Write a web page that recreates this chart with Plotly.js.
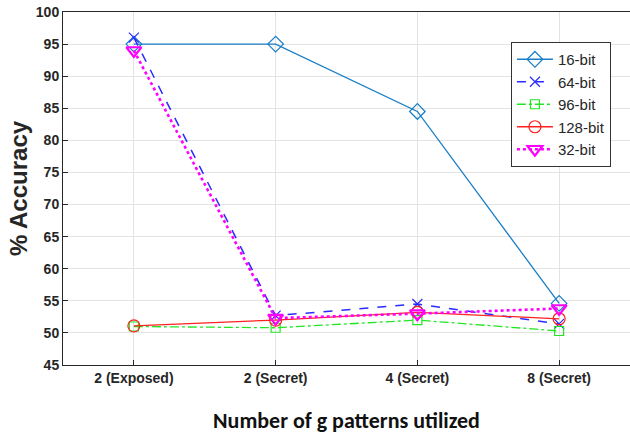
<!DOCTYPE html>
<html>
<head>
<meta charset="utf-8">
<script src="https://cdn.plot.ly/plotly-3.0.1.min.js"></script>
<style>html,body{margin:0;padding:0;background:#fff;overflow:hidden}</style>
</head>
<body>
<div id="chart" style="width:630px;height:435px"></div>
<script>
const categories = ['2 (Exposed)', '2 (Secret)', '4 (Secret)', '8 (Secret)'];
const seriesNames = ['16-bit', '64-bit', '96-bit', '128-bit', '32-bit'];
const acc16 = [95.0, 95.0, 84.5, 54.6];
const acc64 = [96.0, 52.7, 54.5, 51.4];
const acc96 = [51.0, 50.8, 52.0, 50.3];
const acc128 = [51.1, 52.0, 53.2, 52.2];
const acc32 = [94.0, 52.3, 53.0, 53.8];
const yTicks = [45, 50, 55, 60, 65, 70, 75, 80, 85, 90, 95, 100];

const xIdx = categories.map((c, i) => i);
const styles = [
  {color: '#1a7fc6', dash: 'solid', width: 1.3, symbol: 'diamond-open', size: 12},
  {color: '#2b2bff', dash: 'dash', width: 1.5, symbol: 'x-thin-open', size: 10},
  {color: '#22e622', dash: 'dashdot', width: 1.3, symbol: 'square-open', size: 9},
  {color: '#ff2020', dash: 'solid', width: 1.3, symbol: 'circle-open', size: 12},
  {color: '#ff00ff', dash: 'dot', width: 2.6, symbol: 'triangle-down-open', size: 13}
];
const values = [acc16, acc64, acc96, acc128, acc32];

const traces = values.map((v, k) => ({
  x: xIdx, y: v, name: seriesNames[k], type: 'scatter', mode: 'lines+markers',
  line: {color: styles[k].color, dash: styles[k].dash, width: styles[k].width},
  marker: {symbol: styles[k].symbol, size: styles[k].size, color: styles[k].color,
           line: {color: styles[k].color, width: k === 4 ? 2.2 : 1.2}},
  hoverinfo: 'skip'
}));

const layout = {
  width: 630, height: 435,
  margin: {l: 63, r: 0, t: 12, b: 70},
  paper_bgcolor: '#fff', plot_bgcolor: '#fff',
  showlegend: true,
  font: {family: 'Liberation Sans, Arial, sans-serif', color: '#262626'},
  xaxis: {
    range: [-0.5, 3.5], tickvals: xIdx, ticktext: categories,
    showgrid: true, gridcolor: '#e3e3e3', zeroline: false,
    showline: true, linecolor: '#262626', linewidth: 1, mirror: true,
    ticks: 'inside', ticklen: 5, tickcolor: '#262626',
    tickfont: {size: 14, family: 'Liberation Sans, Arial', color: '#262626', weight: 'bold'},
    title: {text: '<b>Number of g patterns utilized</b>', standoff: 27,
            font: {size: 22, family: 'Carlito, Calibri, Liberation Sans, sans-serif', color: '#111'}}
  },
  yaxis: {
    range: [45, 100], tickvals: yTicks,
    showgrid: true, gridcolor: '#e3e3e3', zeroline: false,
    showline: true, linecolor: '#262626', linewidth: 1, mirror: true,
    ticks: 'inside', ticklen: 5, tickcolor: '#262626',
    tickfont: {size: 14, family: 'Liberation Sans, Arial', color: '#262626', weight: 'bold'},
    title: {text: '<b>% Accuracy</b>', standoff: 1,
            font: {size: 24, family: 'Liberation Sans, Arial', color: '#262626'}}
  },
  legend: {
    x: 0.79, y: 0.915, xanchor: 'left', yanchor: 'top',
    bgcolor: '#fff', bordercolor: '#333', borderwidth: 1,
    font: {size: 15, family: 'Liberation Sans, Arial', color: '#262626'},
    tracegroupgap: 0, itemwidth: 36
  }
};

Plotly.newPlot('chart', traces, layout, {displayModeBar: false, staticPlot: true});
</script>
</body>
</html>
